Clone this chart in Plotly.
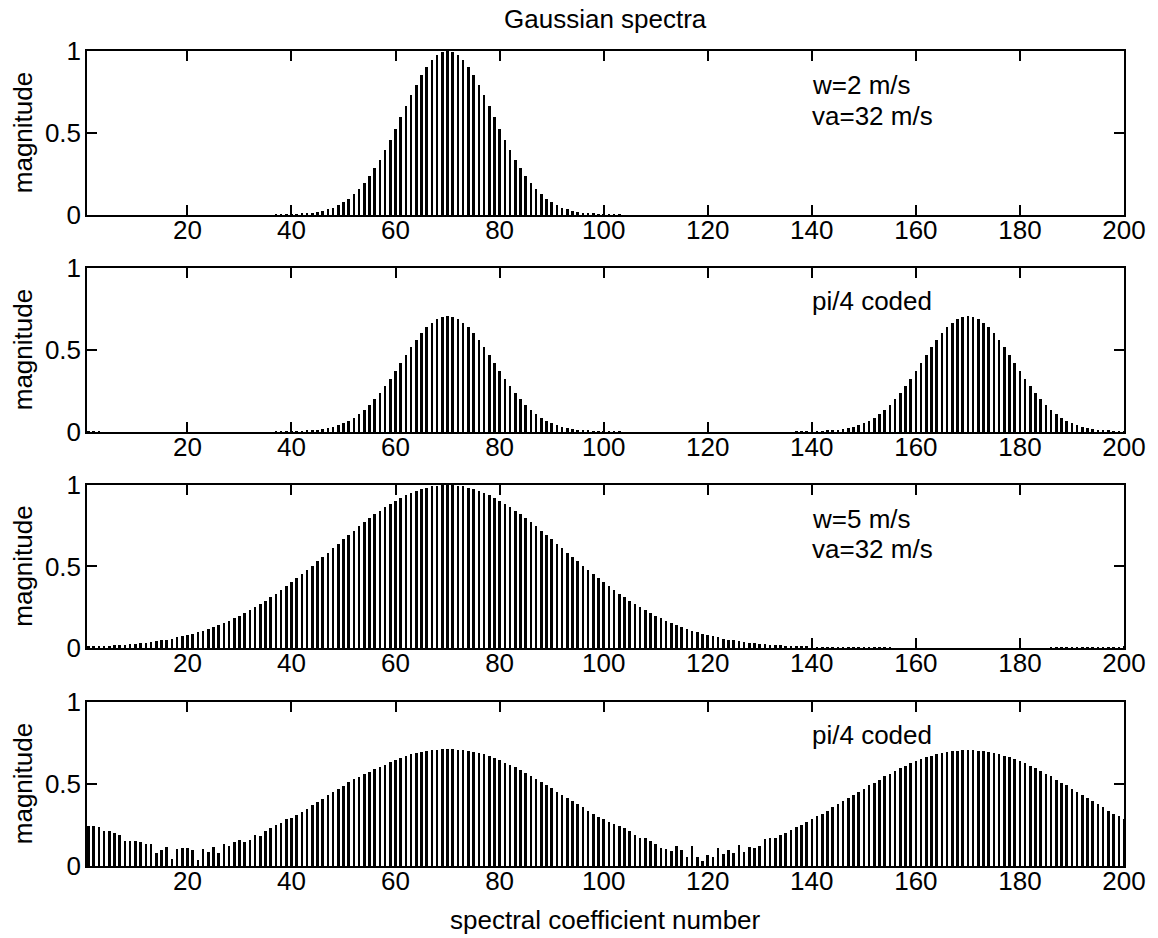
import plotly.graph_objects as go

# ---------------- data ----------------
coef = list(range(1, 201))

mag_w2 = [
    0, 0, 0, 0, 0, 0, 0, 0, 0, 0,
    0, 0, 0, 0, 0, 0, 0, 0, 0, 0,
    0, 0, 0, 0, 0, 0, 0, 0, 0, 0,
    0, 0, 0, 0, 0, 0, 0.001, 0.002, 0.002, 0.003,
    0.005, 0.007, 0.009, 0.013, 0.018, 0.025, 0.034, 0.045, 0.059, 0.077,
    0.099, 0.125, 0.156, 0.193, 0.236, 0.284, 0.338, 0.397, 0.460, 0.526,
    0.595, 0.663, 0.730, 0.794, 0.852, 0.902, 0.944, 0.975, 0.994, 1.000,
    0.994, 0.975, 0.944, 0.902, 0.852, 0.794, 0.730, 0.663, 0.595, 0.526,
    0.460, 0.397, 0.338, 0.284, 0.236, 0.193, 0.156, 0.125, 0.099, 0.077,
    0.059, 0.045, 0.034, 0.025, 0.018, 0.013, 0.009, 0.007, 0.005, 0.003,
    0.002, 0.002, 0.001, 0, 0, 0, 0, 0, 0, 0,
    0, 0, 0, 0, 0, 0, 0, 0, 0, 0,
    0, 0, 0, 0, 0, 0, 0, 0, 0, 0,
    0, 0, 0, 0, 0, 0, 0, 0, 0, 0,
    0, 0, 0, 0, 0, 0, 0, 0, 0, 0,
    0, 0, 0, 0, 0, 0, 0, 0, 0, 0,
    0, 0, 0, 0, 0, 0, 0, 0, 0, 0,
    0, 0, 0, 0, 0, 0, 0, 0, 0, 0,
    0, 0, 0, 0, 0, 0, 0, 0, 0, 0,
    0, 0, 0, 0, 0, 0, 0, 0, 0, 0,
]

mag_w2_coded = [
    0.002, 0.001, 0.001, 0, 0, 0, 0, 0, 0, 0,
    0, 0, 0, 0, 0, 0, 0, 0, 0, 0,
    0, 0, 0, 0, 0, 0, 0, 0, 0, 0,
    0, 0, 0, 0, 0, 0, 0.001, 0.001, 0.002, 0.002,
    0.003, 0.005, 0.007, 0.009, 0.013, 0.018, 0.024, 0.032, 0.042, 0.054,
    0.070, 0.088, 0.110, 0.136, 0.167, 0.201, 0.239, 0.281, 0.325, 0.372,
    0.421, 0.469, 0.516, 0.561, 0.602, 0.638, 0.667, 0.689, 0.703, 0.707,
    0.703, 0.689, 0.667, 0.638, 0.602, 0.561, 0.516, 0.469, 0.421, 0.372,
    0.325, 0.281, 0.239, 0.201, 0.167, 0.136, 0.110, 0.088, 0.070, 0.054,
    0.042, 0.032, 0.024, 0.018, 0.013, 0.009, 0.007, 0.005, 0.003, 0.002,
    0.002, 0.001, 0.001, 0, 0, 0, 0, 0, 0, 0,
    0, 0, 0, 0, 0, 0, 0, 0, 0, 0,
    0, 0, 0, 0, 0, 0, 0, 0, 0, 0,
    0, 0, 0, 0, 0, 0, 0.001, 0.001, 0.002, 0.002,
    0.003, 0.005, 0.007, 0.009, 0.013, 0.018, 0.024, 0.032, 0.042, 0.054,
    0.070, 0.088, 0.110, 0.136, 0.167, 0.201, 0.239, 0.281, 0.325, 0.372,
    0.421, 0.469, 0.516, 0.561, 0.602, 0.638, 0.667, 0.689, 0.703, 0.707,
    0.703, 0.689, 0.667, 0.638, 0.602, 0.561, 0.516, 0.469, 0.421, 0.372,
    0.325, 0.281, 0.239, 0.201, 0.167, 0.136, 0.110, 0.088, 0.070, 0.054,
    0.042, 0.032, 0.024, 0.018, 0.013, 0.009, 0.007, 0.005, 0.003, 0.002,
]

mag_w5 = [
    0.008, 0.009, 0.011, 0.012, 0.014, 0.016, 0.018, 0.020, 0.023, 0.026,
    0.029, 0.033, 0.037, 0.042, 0.047, 0.052, 0.058, 0.065, 0.072, 0.080,
    0.088, 0.097, 0.107, 0.117, 0.129, 0.141, 0.154, 0.168, 0.182, 0.198,
    0.214, 0.232, 0.250, 0.269, 0.289, 0.310, 0.332, 0.355, 0.378, 0.402,
    0.427, 0.452, 0.478, 0.505, 0.531, 0.558, 0.585, 0.613, 0.640, 0.667,
    0.694, 0.720, 0.746, 0.772, 0.796, 0.820, 0.843, 0.864, 0.885, 0.904,
    0.921, 0.937, 0.952, 0.964, 0.975, 0.984, 0.991, 0.996, 0.999, 1.000,
    0.999, 0.996, 0.991, 0.984, 0.975, 0.964, 0.952, 0.937, 0.921, 0.904,
    0.885, 0.864, 0.843, 0.820, 0.796, 0.772, 0.746, 0.720, 0.694, 0.667,
    0.640, 0.613, 0.585, 0.558, 0.531, 0.505, 0.478, 0.452, 0.427, 0.402,
    0.378, 0.355, 0.332, 0.310, 0.289, 0.269, 0.250, 0.232, 0.214, 0.198,
    0.182, 0.168, 0.154, 0.141, 0.129, 0.117, 0.107, 0.097, 0.088, 0.080,
    0.072, 0.065, 0.058, 0.052, 0.047, 0.042, 0.037, 0.033, 0.029, 0.026,
    0.023, 0.020, 0.018, 0.016, 0.014, 0.012, 0.011, 0.009, 0.008, 0.007,
    0.006, 0.005, 0.005, 0.004, 0.003, 0.003, 0.002, 0.002, 0.002, 0.001,
    0.001, 0.001, 0.001, 0.001, 0.001, 0, 0, 0, 0, 0,
    0, 0, 0, 0, 0, 0, 0, 0, 0, 0,
    0, 0, 0, 0, 0, 0, 0, 0, 0, 0,
    0, 0, 0, 0, 0, 0.001, 0.001, 0.001, 0.001, 0.001,
    0.002, 0.002, 0.002, 0.003, 0.003, 0.004, 0.005, 0.005, 0.006, 0.007,
]

mag_w5_coded = [
    0.245, 0.243, 0.237, 0.214, 0.216, 0.204, 0.190, 0.153, 0.153, 0.151,
    0.149, 0.137, 0.133, 0.082, 0.100, 0.116, 0.040, 0.106, 0.110, 0.108,
    0.100, 0.039, 0.104, 0.088, 0.114, 0.080, 0.137, 0.124, 0.147, 0.161,
    0.149, 0.157, 0.186, 0.182, 0.214, 0.231, 0.247, 0.263, 0.285, 0.295,
    0.310, 0.330, 0.350, 0.370, 0.390, 0.410, 0.430, 0.450, 0.470, 0.490,
    0.510, 0.530, 0.545, 0.560, 0.575, 0.590, 0.605, 0.618, 0.633, 0.646,
    0.659, 0.671, 0.682, 0.692, 0.698, 0.704, 0.708, 0.710, 0.712, 0.712,
    0.712, 0.710, 0.708, 0.704, 0.698, 0.692, 0.682, 0.671, 0.659, 0.645,
    0.631, 0.618, 0.602, 0.586, 0.569, 0.551, 0.533, 0.512, 0.494, 0.473,
    0.453, 0.435, 0.414, 0.396, 0.376, 0.357, 0.337, 0.316, 0.298, 0.288,
    0.271, 0.259, 0.243, 0.231, 0.214, 0.186, 0.173, 0.171, 0.153, 0.137,
    0.112, 0.106, 0.092, 0.124, 0.100, 0.055, 0.122, 0.055, 0.031, 0.065,
    0.055, 0.112, 0.076, 0.100, 0.080, 0.127, 0.084, 0.116, 0.112, 0.120,
    0.163, 0.173, 0.173, 0.190, 0.204, 0.219, 0.235, 0.251, 0.267, 0.284,
    0.302, 0.320, 0.338, 0.357, 0.375, 0.395, 0.414, 0.433, 0.452, 0.472,
    0.491, 0.509, 0.527, 0.546, 0.563, 0.580, 0.596, 0.611, 0.626, 0.639,
    0.651, 0.662, 0.673, 0.682, 0.689, 0.696, 0.701, 0.704, 0.706, 0.707,
    0.706, 0.704, 0.701, 0.696, 0.689, 0.682, 0.673, 0.662, 0.651, 0.639,
    0.626, 0.611, 0.596, 0.580, 0.563, 0.546, 0.527, 0.509, 0.491, 0.472,
    0.452, 0.433, 0.414, 0.395, 0.375, 0.357, 0.338, 0.320, 0.302, 0.284,
]

x_tick_vals = [20, 40, 60, 80, 100, 120, 140, 160, 180, 200]
y_tick_vals = [0, 0.5, 1]
y_tick_text = ["0", "0.5", "1"]
panel_notes = [
    ["w=2 m/s", "va=32 m/s"],
    ["pi/4 coded"],
    ["w=5 m/s", "va=32 m/s"],
    ["pi/4 coded"],
]
title_text = "Gaussian spectra"
x_label = "spectral coefficient number"
y_label = "magnitude"

# ---------------- figure ----------------
series = [mag_w2, mag_w2_coded, mag_w5, mag_w5_coded]
domains = [[0.7988, 1.0], [0.5325, 0.7337], [0.2675, 0.4675], [0.0, 0.2012]]
note_y = [[0.79, 0.605], [0.80], [0.792, 0.608], [0.80]]

FONT = "Liberation Sans, Arial, Helvetica, sans-serif"
FS = 26

fig = go.Figure()
layout = dict(
    width=1158, height=938,
    margin=dict(l=87, r=31, t=51, b=72),
    plot_bgcolor="white", paper_bgcolor="white",
    showlegend=False, bargap=0,
    font=dict(family=FONT, size=FS, color="black"),
)
annotations = []
for i, vals in enumerate(series):
    n = i + 1
    xa = "x" if n == 1 else f"x{n}"
    ya = "y" if n == 1 else f"y{n}"
    fig.add_trace(go.Bar(x=coef, y=vals, xaxis=xa, yaxis=ya, width=0.5,
                         marker=dict(color="black", line=dict(width=0))))
    axis_common = dict(showline=True, linecolor="black", linewidth=1.5,
                       mirror="ticks", ticks="inside", ticklen=10, tickwidth=1.5,
                       tickcolor="black", showgrid=False, zeroline=False,
                       tickfont=dict(family=FONT, size=FS, color="black"))
    layout["xaxis" if n == 1 else f"xaxis{n}"] = dict(
        axis_common, domain=[0, 1], range=[0.7, 200], anchor=ya,
        tickvals=x_tick_vals, ticklabelstandoff=-9)
    layout["yaxis" if n == 1 else f"yaxis{n}"] = dict(
        axis_common, domain=domains[i], range=[0, 1], anchor=xa,
        tickvals=y_tick_vals, ticktext=y_tick_text, ticklabelstandoff=-1)
    for txt, yy in zip(panel_notes[i], note_y[i]):
        annotations.append(dict(text=txt, x=139.6, y=yy, xref=xa, yref=ya,
                                xanchor="left", yanchor="middle", showarrow=False,
                                font=dict(family=FONT, size=FS, color="black")))
    annotations.append(dict(text=y_label, x=-0.0615, y=sum(domains[i]) / 2,
                            xref="paper", yref="paper", textangle=-90,
                            xanchor="center", yanchor="middle", showarrow=False,
                            font=dict(family=FONT, size=FS, color="black")))

annotations.append(dict(text=title_text, x=0.5, y=1.0387, xref="paper", yref="paper",
                        xanchor="center", yanchor="middle", showarrow=False,
                        font=dict(family=FONT, size=FS, color="black")))
annotations.append(dict(text=x_label, x=0.5, y=-0.066, xref="paper", yref="paper",
                        xanchor="center", yanchor="middle", showarrow=False,
                        font=dict(family=FONT, size=FS, color="black")))
layout["annotations"] = annotations
fig.update_layout(**layout)
fig.write_html("out.html")
